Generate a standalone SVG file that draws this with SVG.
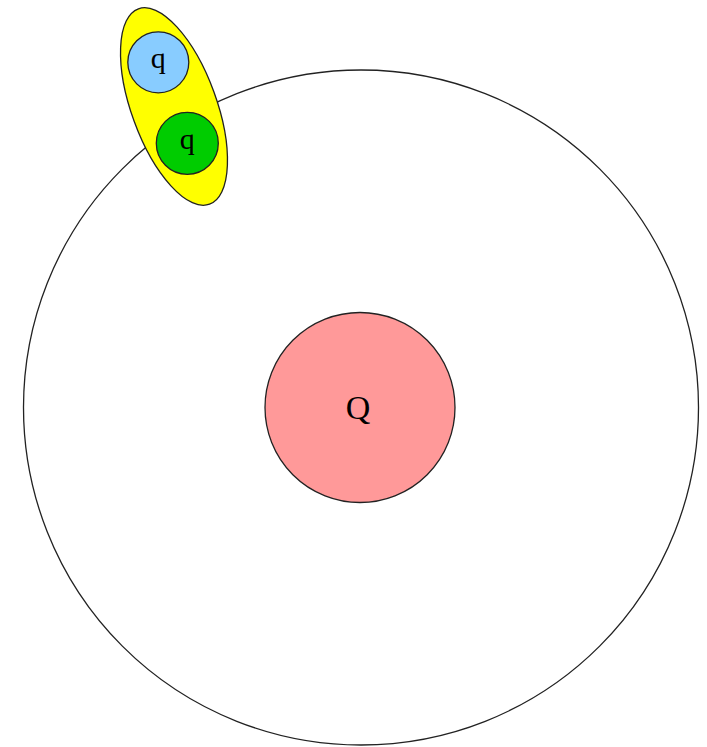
<svg xmlns="http://www.w3.org/2000/svg" width="707" height="747" viewBox="0 0 707 747">
<style>
.s{stroke:#222;stroke-width:1.3}
.t{font-family:"Liberation Serif",serif;fill:#000;text-anchor:middle}
</style>
<rect width="707" height="747" fill="#fff"/>
<g id="orbit"><circle class="s" cx="361" cy="407.5" r="337.5" fill="none"/></g>
<g id="nucleus">
<circle class="s" cx="360" cy="407.5" r="95" fill="#ff9999"/>
<text class="t" x="358" y="419" font-size="34">Q</text>
</g>
<g id="pair">
<ellipse class="s" cx="174" cy="106.5" rx="42.5" ry="104" transform="rotate(-20 174 106.5)" fill="#ffff00"/>
<g id="q1">
<circle class="s" cx="158.3" cy="62.3" r="30.5" fill="#88ccff"/>
<text class="t" x="158.3" y="68" font-size="30">q</text>
</g>
<g id="q2">
<circle class="s" cx="187.3" cy="143.3" r="31" fill="#00cc00"/>
<text class="t" x="187.3" y="149" font-size="30">q</text>
</g>
</g>
<g id="connectors"/>
</svg>
